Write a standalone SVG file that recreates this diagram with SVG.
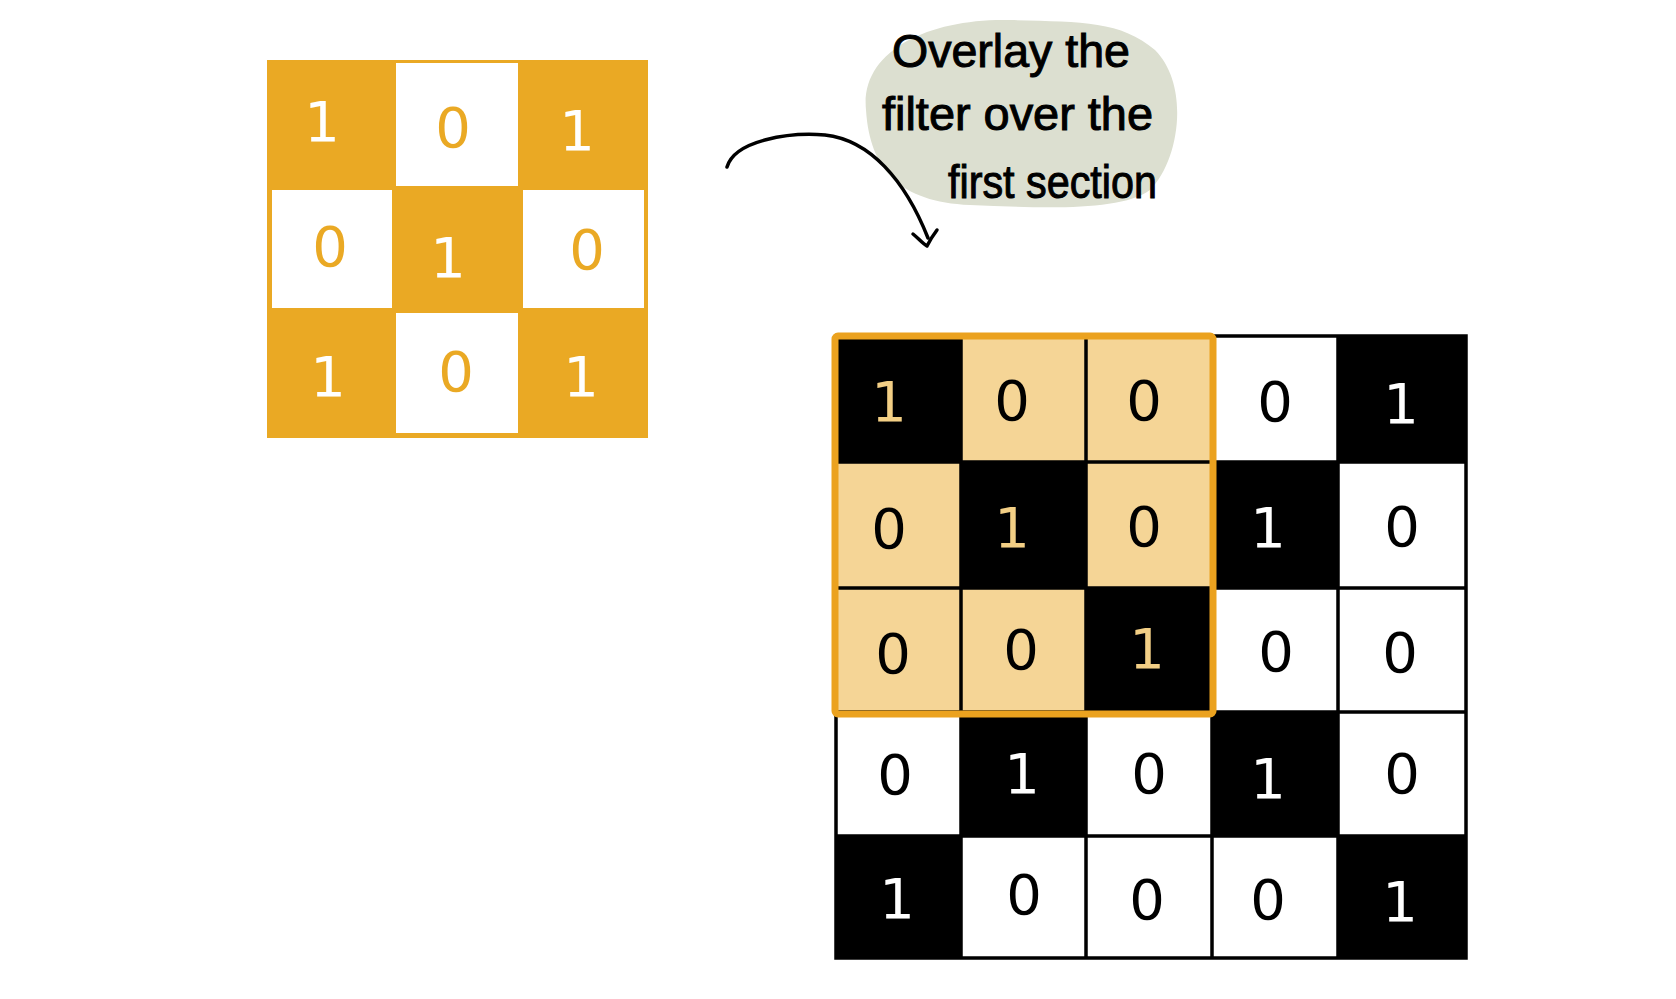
<svg xmlns="http://www.w3.org/2000/svg" width="1676" height="999" viewBox="0 0 1676 999">
<style>
.dg{font-family:"DejaVu Sans","Liberation Sans",sans-serif;font-size:56px;text-anchor:middle}
.w{fill:#ffffff}
.o{fill:#eaa924}
.k{fill:#000000}
.t{fill:#f3cf85}
.note{font-family:"Liberation Sans",Arial,sans-serif;font-size:46px;fill:#000;stroke:#000;stroke-width:1px}
.gl{stroke:#000;stroke-width:3.5;fill:none}
</style>
<rect width="1676" height="999" fill="#ffffff"/>

<g id="filter">
<rect x="267" y="60" width="381" height="378" fill="#eaa924"/>
<rect x="396" y="63" width="122" height="123" fill="#ffffff"/>
<rect x="272" y="190" width="120" height="118" fill="#ffffff"/>
<rect x="523" y="190" width="121" height="118" fill="#ffffff"/>
<rect x="396" y="313" width="122" height="120" fill="#ffffff"/>
<text class="dg w" x="322" y="141">1</text>
<text class="dg o" x="453" y="147">0</text>
<text class="dg w" x="577" y="150">1</text>
<text class="dg o" x="330" y="266">0</text>
<text class="dg w" x="448" y="277">1</text>
<text class="dg o" x="587" y="269">0</text>
<text class="dg w" x="328" y="396">1</text>
<text class="dg o" x="456" y="391">0</text>
<text class="dg w" x="581" y="396">1</text>
</g>

<g id="note">
<path d="M866,110 C860,50 930,18 1010,20 C1080,22 1120,20 1155,50 C1190,85 1180,160 1150,190 C1120,212 1040,208 970,205 C900,202 870,170 866,110 Z" fill="#dcdfd0"/>
<text class="note" x="892" y="67" textLength="238" lengthAdjust="spacingAndGlyphs">Overlay the</text>
<text class="note" x="882" y="130" textLength="271" lengthAdjust="spacingAndGlyphs">filter over the</text>
<text class="note" x="948" y="198" textLength="209" lengthAdjust="spacingAndGlyphs">first section</text>
</g>

<g id="connectors">
<path d="M727,167 C735,140 790,132 825,135 C870,140 905,180 928,238" fill="none" stroke="#000" stroke-width="3.5" stroke-linecap="round"/>
<path d="M913,234 C918,238 922,243 927,246 C930,240 934,234 937,230" fill="none" stroke="#000" stroke-width="3.5" stroke-linecap="round" stroke-linejoin="round"/>
</g>

<g id="image-grid">
<rect x="836" y="336" width="630" height="622" fill="#ffffff"/>
<rect x="836" y="336" width="377" height="377" fill="#f5d596"/>
<rect x="836" y="336" width="125" height="126" fill="#000"/>
<rect x="1338" y="336" width="128" height="126" fill="#000"/>
<rect x="961" y="462" width="125" height="126" fill="#000"/>
<rect x="1212" y="462" width="126" height="126" fill="#000"/>
<rect x="1086" y="588" width="126" height="124" fill="#000"/>
<rect x="961" y="712" width="125" height="124" fill="#000"/>
<rect x="1212" y="712" width="126" height="124" fill="#000"/>
<rect x="836" y="836" width="125" height="122" fill="#000"/>
<rect x="1338" y="836" width="128" height="122" fill="#000"/>
<path class="gl" d="M961,336V958 M1086,336V958 M1212,336V958 M1338,336V958 M836,462H1466 M836,588H1466 M836,712H1466 M836,836H1466"/>
<rect class="gl" x="836" y="336" width="630" height="622"/>
<rect x="835" y="336" width="378" height="378" fill="none" stroke="#eba21f" stroke-width="7" rx="3"/>

<text class="dg t" x="889" y="421">1</text>
<text class="dg k" x="1012" y="420">0</text>
<text class="dg k" x="1144" y="420">0</text>
<text class="dg k" x="1275" y="421">0</text>
<text class="dg w" x="1401" y="423">1</text>

<text class="dg k" x="889" y="548">0</text>
<text class="dg t" x="1012" y="547">1</text>
<text class="dg k" x="1144" y="546">0</text>
<text class="dg w" x="1268" y="547">1</text>
<text class="dg k" x="1402" y="546">0</text>

<text class="dg k" x="893" y="673">0</text>
<text class="dg k" x="1021" y="669">0</text>
<text class="dg t" x="1147" y="668">1</text>
<text class="dg k" x="1276" y="671">0</text>
<text class="dg k" x="1400" y="672">0</text>

<text class="dg k" x="895" y="794">0</text>
<text class="dg w" x="1022" y="793">1</text>
<text class="dg k" x="1149" y="793">0</text>
<text class="dg w" x="1268" y="798">1</text>
<text class="dg k" x="1402" y="793">0</text>

<text class="dg w" x="897" y="918">1</text>
<text class="dg k" x="1024" y="914">0</text>
<text class="dg k" x="1147" y="919">0</text>
<text class="dg k" x="1268" y="919">0</text>
<text class="dg w" x="1400" y="921">1</text>
</g>
</svg>
